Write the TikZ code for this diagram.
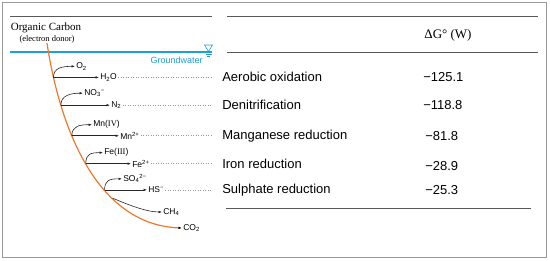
\documentclass[tikz,border=0pt]{standalone}
\usepackage{fontspec}
\setmainfont{Liberation Sans}
\newfontfamily\serif{Liberation Serif}
\usetikzlibrary{arrows.meta,positioning}
\definecolor{gwblue}{RGB}{30,160,215}
\definecolor{corg}{RGB}{240,120,45}

\begin{document}
\begin{tikzpicture}[x=1pt, y=-1pt, line width=0.6pt,
  spc/.style={font=\fontsize{8.5}{9}\selectfont, inner sep=1pt, anchor=west},
  lab/.style={font=\fontsize{13}{15}\selectfont, inner sep=0pt, anchor=west},
  arr/.style={-{Latex[length=3.5pt,width=2.6pt]}, line width=0.6pt, black!85},
  rule/.style={line width=0.7pt, black!65},
  dots/.style={dotted, line width=0.5pt, black!40}]
  \useasboundingbox (0,0) rectangle (550,261);
  % frame
  \draw[line width=1.3pt, black!40] (2.5,2.5) rectangle (546.5,257.5);
  % table rules
  \draw[rule] (10,16) -- (212,16);
  \draw[rule] (227,16) -- (538,16);
  \draw[rule] (227,52) -- (538,52);
  \draw[rule] (226,208) -- (531,208);
  \node[font=\serif\fontsize{13}{15}\selectfont, inner sep=0pt] (dg) at (448,35) {ΔG° (W)};
  % groundwater table
  \coordinate (gwl) at (10,52);
  \coordinate (gwr) at (212,52);
  \draw[gwblue, line width=1.2pt] (gwl) -- (gwr);
  \draw[gwblue, line width=0.6pt] (204.5,45) -- (212.5,45) -- (208.5,51.5) -- cycle;
  \draw[gwblue, line width=0.6pt] (205.5,54.5) -- (211.5,54.5) (206.8,56.8) -- (210.2,56.8);
  \node[font=\fontsize{9}{10}\selectfont, text=gwblue, anchor=east, inner sep=0pt] (gwt) at (203,60) {Groundwater};
  % electron donor
  \node[font=\serif\fontsize{11}{12}\selectfont, inner sep=0pt] (oc) at (46,28) {Organic Carbon};
  \node[font=\serif\fontsize{8.5}{10}\selectfont, inner sep=0pt] (ed) at (47,39) {(electron donor)};
  \node[spc] (co2) at (182,228) {CO\textsubscript{2}};
  \draw[corg, line width=1.2pt, -{Latex[black,length=3.5pt,width=2.6pt]}]
    (ed.south) .. controls (61,135) and (100,225) .. (co2.west)
    coordinate[pos=0.125] (b1) coordinate[pos=0.23] (b2) coordinate[pos=0.352] (b3)
    coordinate[pos=0.475] (b4) coordinate[pos=0.61] (b5) coordinate[pos=0.66] (b6);
  % O2 / H2O
  \node[spc] (h2o) at (99,0 |- b1) {H\textsubscript{2}O};
  \node[spc, yshift=11pt] (o2) at (75,0 |- b1) {O\textsubscript{2}};
  \draw[arr] (b1) -- (h2o.west);
  \draw[arr] (b1) .. controls +(0,-10) and +(-12,0) .. (o2.west);
  % NO3 / N2
  \node[spc] (n2) at (110,0 |- b2) {N\textsubscript{2}};
  \node[spc, yshift=12pt] (no3) at (83,0 |- b2) {NO\textsubscript{3}\textsuperscript{−}};
  \draw[arr] (b2) -- (n2.west);
  \draw[arr] (b2) .. controls +(0,-10) and +(-12,0) .. (no3.west);
  % Mn
  \node[spc] (mn2) at (119,0 |- b3) {Mn\textsuperscript{2+}};
  \node[spc, yshift=11pt] (mn4) at (92,0 |- b3) {Mn({\serif IV})};
  \draw[arr] (b3) -- (mn2.west);
  \draw[arr] (b3) .. controls +(0,-10) and +(-12,0) .. (mn4.west);
  % Fe
  \node[spc] (fe2) at (131,0 |- b4) {Fe\textsuperscript{2+}};
  \node[spc, yshift=11pt] (fe3) at (103,0 |- b4) {Fe({\serif III})};
  \draw[arr] (b4) -- (fe2.west);
  \draw[arr] (b4) .. controls +(0,-10) and +(-12,0) .. (fe3.west);
  % SO4 / HS
  \node[spc] (hs) at (147,0 |- b5) {HS\textsuperscript{−}};
  \node[spc, yshift=11pt] (so4) at (122,0 |- b5) {SO\textsubscript{4}\textsuperscript{2−}};
  \draw[arr] (b5) -- (hs.west);
  \draw[arr] (b5) .. controls +(0,-10) and +(-12,0) .. (so4.west);
  % CH4
  \node[spc] (ch4) at (162,212) {CH\textsubscript{4}};
  \draw[arr] (b6) .. controls +(14,6) and +(-16,0) .. (ch4.west);
  % dotted leaders
  \draw[dots] (h2o.east) -- (h2o.east -| gwr);
  \draw[dots] (n2.east) -- (n2.east -| gwr);
  \draw[dots] (mn2.east) -- (mn2.east -| gwr);
  \draw[dots] (fe2.east) -- (fe2.east -| gwr);
  \draw[dots] (hs.east) -- (hs.east -| gwr);
  % processes and values
  \node[lab] (aer) at (222,0 |- b1) {Aerobic oxidation};
  \node[lab] (den) at (222,0 |- b2) {Denitrification};
  \node[lab] (man) at (222,0 |- b3) {Manganese reduction};
  \node[lab] (iro) at (222,0 |- b4) {Iron reduction};
  \node[lab] (sul) at (222,0 |- b5) {Sulphate reduction};
  \node[lab] (v1) at (423,0 |- aer) {−125.1};
  \node[lab] (v2) at (423,0 |- den) {−118.8};
  \node[lab] (v3) at (425,0 |- man) {−81.8};
  \node[lab, yshift=-2pt] (v4) at (425,0 |- iro) {−28.9};
  \node[lab] (v5) at (425,0 |- sul) {−25.3};
\end{tikzpicture}
\end{document}
